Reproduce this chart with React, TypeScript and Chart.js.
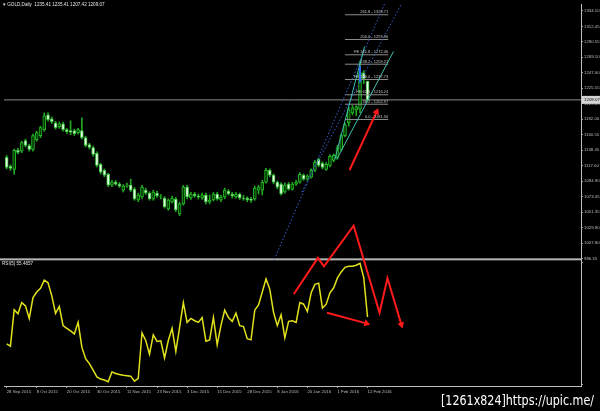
import React, { useEffect, useRef } from "react";
import { Chart, registerables } from "chart.js";
Chart.register(...registerables);

// ---------- price data (GOLD, Daily) ----------
const OPEN = [
  1128.2, 1115.7, 1111.5, 1138.0, 1137.5, 1151.9, 1144.9, 1139.4, 1153.3, 1158.8,
  1167.2, 1188.0, 1182.5, 1176.9, 1171.4, 1175.5, 1167.2, 1165.8, 1165.8, 1163.0,
  1165.8, 1156.0, 1146.3, 1142.1, 1133.8, 1118.5, 1110.1, 1104.6, 1089.3, 1093.5,
  1090.7, 1082.3, 1087.9, 1089.3, 1083.7, 1068.4, 1072.6, 1082.3, 1078.2, 1069.8,
  1078.2, 1072.6, 1071.2, 1055.9, 1065.6, 1069.8, 1048.9, 1062.9, 1086.5, 1071.2,
  1076.8, 1074.0, 1071.2, 1075.4, 1065.6, 1068.4, 1076.8, 1068.4, 1072.6, 1080.9,
  1076.8, 1072.6, 1076.8, 1071.2, 1071.2, 1069.8, 1069.8, 1082.3, 1082.3, 1093.5,
  1110.1, 1103.2, 1093.5, 1090.7, 1079.6, 1090.7, 1083.7, 1090.7, 1093.5, 1103.2,
  1097.6, 1100.4, 1110.1, 1125.5, 1119.9, 1111.5, 1117.1, 1124.1, 1128.2, 1139.4,
  1158.8, 1176.9, 1190.8, 1195.0, 1196.0, 1247.0, 1235.41,
];
const HIGH = [
  1131, 1118, 1140, 1141, 1151, 1154, 1147, 1161, 1165, 1172,
  1190.8, 1191, 1185, 1179, 1178, 1178, 1169, 1179.7, 1168, 1169,
  1183.9, 1158, 1148, 1144, 1136, 1120, 1112, 1106, 1096, 1096,
  1093, 1090, 1092, 1097.6, 1086, 1078, 1089, 1085, 1080, 1082,
  1081, 1076, 1073, 1070, 1074, 1072, 1065, 1089, 1089, 1079,
  1079, 1076.8, 1078, 1078, 1075.4, 1079, 1079, 1075, 1085, 1083,
  1079, 1079, 1078, 1075, 1073, 1072, 1088, 1089, 1096, 1113,
  1112, 1105, 1095, 1093, 1092, 1093, 1093, 1096, 1107, 1105,
  1104, 1112, 1124, 1127, 1122, 1121, 1132, 1133, 1145, 1161,
  1176, 1199, 1201, 1201, 1263.5, 1250, 1235.41,
];
const LOW = [
  1112, 1110, 1104.6, 1133, 1135, 1143, 1137, 1137, 1151, 1156,
  1165, 1179, 1176, 1168, 1169, 1165, 1162, 1160.2, 1159, 1161,
  1154, 1143, 1140, 1130, 1115, 1105, 1101, 1087, 1087, 1089,
  1086, 1079.6, 1086, 1080, 1068, 1066, 1070, 1076, 1068, 1068,
  1072, 1069.8, 1057, 1054, 1064, 1052, 1046.2, 1061, 1070, 1069,
  1072, 1069.8, 1069, 1063, 1063, 1067, 1068, 1066, 1070, 1075,
  1071, 1071, 1069, 1068, 1066, 1065, 1068, 1076.8, 1075.4, 1092,
  1101, 1091, 1084, 1075, 1078, 1082, 1082, 1089, 1092, 1096,
  1096, 1099, 1108, 1115, 1112, 1110, 1115, 1122, 1126, 1137,
  1157, 1172, 1188, 1187, 1191, 1232, 1207.42,
];
const CLOSE = [
  1114.3, 1112.9, 1138.0, 1135.2, 1149.1, 1144.9, 1139.4, 1158.8, 1163.0, 1170.0,
  1186.7, 1181.1, 1178.3, 1170.0, 1175.5, 1167.2, 1164.4, 1163.7, 1161.6, 1167.2,
  1156.0, 1144.9, 1142.1, 1132.4, 1117.1, 1107.4, 1103.2, 1089.3, 1093.5, 1090.7,
  1087.9, 1087.9, 1089.3, 1082.3, 1069.8, 1075.4, 1086.5, 1078.2, 1069.8, 1079.6,
  1074.0, 1073.3, 1058.7, 1068.4, 1071.2, 1054.5, 1062.9, 1086.5, 1072.6, 1076.8,
  1074.0, 1072.6, 1075.4, 1065.6, 1068.4, 1076.8, 1069.8, 1072.6, 1082.3, 1076.8,
  1074.0, 1076.8, 1071.2, 1070.5, 1068.4, 1067.7, 1085.1, 1086.5, 1093.5, 1110.1,
  1103.2, 1093.5, 1086.5, 1076.8, 1089.3, 1083.7, 1090.7, 1093.5, 1104.6, 1097.6,
  1101.8, 1110.1, 1121.3, 1117.1, 1114.3, 1118.5, 1129.6, 1131.0, 1142.1, 1158.8,
  1174.1, 1195.0, 1197.8, 1199.2, 1247.5, 1239.0, 1209.07,
];

// ---------- oscillator (0..100) ----------
const RSI = [
  33.5, 31.5, 61.4, 58.1, 67.3, 64.6, 54.3, 71.4, 76.0, 79.0,
  85.8, 83.6, 72.8, 58.4, 64.1, 48.4, 46.2, 44.1, 41.6, 51.1,
  30.7, 21.3, 17.2, 11.8, 6.3, 4.5, 3.7, 2.3, 10.4, 9.1,
  8.3, 7.7, 7.3, 6.9, 2.8, 5.0, 42.4, 36.2, 25.0, 40.8,
  35.4, 35.9, 21.8, 36.2, 46.2, 27.2, 47.0, 67.3, 51.1, 54.3,
  52.4, 51.1, 55.1, 35.6, 36.7, 55.1, 32.7, 48.4, 61.1, 55.1,
  51.9, 58.7, 48.4, 47.6, 37.6, 36.7, 61.1, 65.4, 76.0, 86.8,
  78.2, 59.2, 48.4, 57.3, 38.4, 51.9, 52.4, 51.1, 67.3, 66.0,
  60.0, 75.4, 82.3, 83.3, 62.8, 66.0, 75.4, 79.5, 87.6, 92.5,
  96.3, 97.2, 97.2, 98.0, 99.6, 87.6, 55.5,
];

// ---------- axes / labels ----------
const PRICE_TICKS = [
  1334.1, 1312.45, 1290.55, 1269.1, 1247.0, 1225.55, 1203.45, 1182.0, 1160.55,
  1138.45, 1117.0, 1094.9, 1073.45, 1051.35, 1029.9, 1007.8, 986.35,
];
const RSI_TICKS = [100, 0];
const DATE_TICKS = [0, 8, 16, 24, 32, 40, 48, 56, 64, 72, 80, 88, 96];
const DATE_LABELS = [
  "28 Sep 2015", "8 Oct 2015", "20 Oct 2015", "30 Oct 2015", "11 Nov 2015",
  "23 Nov 2015", "3 Dec 2015", "15 Dec 2015", "28 Dec 2015", "8 Jan 2016",
  "20 Jan 2016", "1 Feb 2016", "12 Feb 2016",
];
const TITLE = "\u25BE GOLD,Daily  1235.41 1235.41 1207.42 1209.07";
const RSI_TITLE = "RSI(5) 55.4657";
const LAST_PRICE = 1209.07;
const WATERMARK = "[1261x824]https://upic.me/";

// ---------- fibonacci levels ----------
const FIB_LEVELS = [1328.71, 1293.96, 1272.46, 1259.21, 1237.73, 1216.24, 1202.97, 1181.5];
const FIB_LABELS = [
  "261.8 - 1328.71", "200.0 - 1293.96", "FE 161.8 - 1272.46", "138.2 - 1259.21",
  "FE 100.0 - 1237.73", "FE 61.8 - 1216.24", "38.2 - 1202.97", "0.0 - 1181.50",
];
const FIB_FROM = 90;
const FIB_TO = 101.5;

// ---------- hand-drawn objects, [bar index, price] ----------
const CHANNEL_STEEP = [[87.3, 1125.4], [95.2, 1284.0]];
const CHANNEL_SHALLOW = [[87.8, 1125.4], [102.9, 1277.1]];
const DOTTED_1 = [[71.2, 985.0], [100.5, 1343.8]];
const DOTTED_2 = [[78.5, 1079.5], [105.0, 1343.8]];
const RED_UP = [[91.2, 1110.1], [98.4, 1192.2]];
const RED_ZIGZAG = [[76.4, 936.3], [82.8, 987.0], [84.4, 975.2], [92.3, 1032.3], [99.2, 909.8], [101.3, 958.5], [105.0, 893.2]];
const RED_DIVERGENCE = [[85.2, 909.8], [95.7, 894.9]];
const BLUE_MARK = [[94, 1256], [94, 1234]];

const X_MIN = -0.713;
const X_MAX = 152.79;
const PRICE_MIN = 806.91;
const PRICE_MAX = 1343.84;
const RSI_MIN = -1.2;
const RSI_MAX = 312.6;

const FONT = "Liberation Sans";

const pts = (arr: number[][]) => arr.map(([x, y]) => ({ x, y }));

function lineDs(arr: number[][], color: string, width: number, extra: any = {}) {
  return {
    type: "line",
    data: pts(arr),
    borderColor: color,
    borderWidth: width,
    pointRadius: 0,
    tension: 0,
    xAxisID: "x",
    yAxisID: "y",
    order: 1,
    ...extra,
  };
}

function arrowDs(arr: number[][], color: string, rotation: number) {
  const n = arr.length;
  return lineDs(arr, color, 2, {
    pointRadius: arr.map((_, i) => (i === n - 1 ? 4 : 0)),
    pointStyle: "triangle",
    pointRotation: arr.map((_, i) => (i === n - 1 ? rotation : 0)),
    pointBackgroundColor: color,
    pointBorderColor: color,
    pointBorderWidth: 0,
    order: 0,
  });
}

const overlayPlugin = {
  id: "overlay",
  beforeDraw(chart: any) {
    const ctx = chart.ctx;
    ctx.save();
    ctx.fillStyle = "#000";
    ctx.fillRect(0, 0, chart.width, chart.height);
    ctx.restore();
  },
  beforeDatasetsDraw(chart: any) {
    const ctx = chart.ctx;
    const ca = chart.chartArea;
    const yS = chart.scales.y;
    const sepY = yS.getPixelForValue(PRICE_TICKS[PRICE_TICKS.length - 1]) + 1;
    ctx.save();
    ctx.fillStyle = "#b4b4b4";
    ctx.fillRect(0, sepY - 1, ca.right, 2);
    ctx.restore();
  },
  afterDraw(chart: any) {
    const ctx = chart.ctx;
    const xS = chart.scales.x;
    const yS = chart.scales.y;
    const ca = chart.chartArea;
    ctx.save();
    ctx.textBaseline = "middle";
    ctx.textAlign = "left";
    ctx.fillStyle = "#e6e6e6";
    ctx.font = `4.6px "${FONT}"`;
    ctx.fillText(TITLE, 3, 5);
    const sepY = yS.getPixelForValue(PRICE_TICKS[PRICE_TICKS.length - 1]) + 1;
    ctx.fillText(RSI_TITLE, 2, sepY + 4.5);

    // fib labels
    ctx.font = `4px "${FONT}"`;
    ctx.fillStyle = "#c4c4c4";
    ctx.textAlign = "right";
    ctx.textBaseline = "bottom";
    const fx = xS.getPixelForValue(FIB_TO);
    FIB_LEVELS.forEach((lv, i) => {
      ctx.fillText(FIB_LABELS[i], fx, yS.getPixelForValue(lv) - 0.5);
    });

    // last price box
    const py = yS.getPixelForValue(LAST_PRICE);
    ctx.fillStyle = "#d4d4d4";
    ctx.fillRect(ca.right + 1, py - 4, chart.width - ca.right - 1, 8);
    ctx.fillStyle = "#000";
    ctx.textAlign = "left";
    ctx.textBaseline = "middle";
    ctx.font = `4.4px "${FONT}"`;
    ctx.fillText(LAST_PRICE.toFixed(2), ca.right + 3, py);

    // watermark
    ctx.fillStyle = "#ffffff";
    ctx.font = `14px "DejaVu Sans"`;
    ctx.textAlign = "left";
    ctx.textBaseline = "middle";
    ctx.fillText(WATERMARK, 441, 401, 153);
    ctx.restore();
  },
};

export default function App() {
  const ref = useRef<HTMLCanvasElement | null>(null);

  useEffect(() => {
    if (!ref.current) return;
    const idx = OPEN.map((_, i) => i);
    const bull = idx.map((i) => CLOSE[i] >= OPEN[i]);

    const fibData: any[] = [];
    FIB_LEVELS.forEach((lv) => {
      fibData.push({ x: FIB_FROM, y: lv }, { x: FIB_TO, y: lv }, { x: FIB_TO, y: null });
    });

    const chart = new Chart(ref.current, {
      type: "bar",
      data: {
        datasets: [
          arrowDs(RED_UP, "#ff1a1a", 25),
          arrowDs(RED_ZIGZAG, "#ff1a1a", 163),
          arrowDs(RED_DIVERGENCE, "#ff1a1a", 105),
          {
            type: "line",
            data: idx.map((i) => ({ x: i, y: RSI[i] })),
            borderColor: "#e2e21c",
            borderWidth: 1.5,
            pointRadius: 0,
            tension: 0,
            xAxisID: "x",
            yAxisID: "y2",
            order: 1,
          },
          lineDs(BLUE_MARK, "#2f6bff", 2, { order: 2 }),
          lineDs(CHANNEL_STEEP, "#3fc0b0", 1, { order: 2 }),
          lineDs(CHANNEL_SHALLOW, "#3fc0b0", 1, { order: 2 }),
          lineDs(DOTTED_1, "#3560d0", 1, { borderDash: [1.5, 2], order: 2 }),
          lineDs(DOTTED_2, "#3560d0", 1, { borderDash: [1.5, 2], order: 2 }),
          {
            type: "line",
            data: fibData,
            borderColor: "#8c8c8c",
            borderWidth: 1,
            pointRadius: 0,
            spanGaps: false,
            xAxisID: "x",
            yAxisID: "y",
            order: 3,
          },
          {
            type: "bar",
            data: idx.map((i) => ({ x: i, y: [OPEN[i], CLOSE[i]] })),
            backgroundColor: idx.map((i) => (bull[i] ? "#053805" : "#e6ffe6")),
            borderColor: idx.map((i) => (bull[i] ? "#22b822" : "#3cbc3c")),
            borderWidth: 1,
            borderSkipped: false,
            barThickness: 3,
            grouped: false,
            xAxisID: "x",
            yAxisID: "y",
            order: 4,
          },
          {
            type: "bar",
            data: idx.map((i) => ({ x: i, y: [LOW[i], HIGH[i]] })),
            backgroundColor: "#20a820",
            barThickness: 1,
            grouped: false,
            xAxisID: "x",
            yAxisID: "y",
            order: 5,
          },
          {
            type: "line",
            data: [
              { x: X_MIN, y: LAST_PRICE },
              { x: X_MAX, y: LAST_PRICE },
            ],
            borderColor: "#8a8a8a",
            borderWidth: 1,
            pointRadius: 0,
            xAxisID: "x",
            yAxisID: "y",
            order: 6,
          },
        ] as any,
      },
      options: {
        animation: false,
        responsive: false,
        maintainAspectRatio: false,
        layout: { padding: 0 },
        plugins: { legend: { display: false }, tooltip: { enabled: false } },
        scales: {
          x: {
            type: "linear",
            min: X_MIN,
            max: X_MAX,
            offset: false,
            position: "bottom",
            afterFit: (s: any) => {
              s.height = 25;
              s.paddingLeft = 0;
              s.paddingRight = 0;
            },
            afterBuildTicks: (s: any) => {
              s.ticks = DATE_TICKS.map((v) => ({ value: v }));
            },
            ticks: {
              autoSkip: false,
              maxRotation: 0,
              minRotation: 0,
              align: "start",
              padding: 1,
              color: "#bdbdbd",
              font: { family: FONT, size: 4.3 },
              callback: (v: any) => {
                const k = DATE_TICKS.indexOf(Number(v));
                return k >= 0 ? DATE_LABELS[k] : "";
              },
            },
            grid: { drawOnChartArea: false, offset: false, drawTicks: true, tickLength: 2, color: "#9a9a9a" },
            border: { display: true, color: "#bdbdbd", width: 1 },
          },
          y2: {
            type: "linear",
            position: "right",
            min: RSI_MIN,
            max: RSI_MAX,
            weight: 0,
            afterFit: (s: any) => {
              s.width = 0;
              s.paddingTop = 0;
              s.paddingBottom = 0;
            },
            afterBuildTicks: (s: any) => {
              s.ticks = RSI_TICKS.map((v) => ({ value: v }));
            },
            ticks: {
              padding: 1,
              color: "#bdbdbd",
              font: { family: FONT, size: 4.3 },
              callback: (v: any) => String(v),
            },
            grid: { drawOnChartArea: false, drawTicks: true, tickLength: 2, color: "#9a9a9a" },
            border: { display: false },
          },
          y: {
            type: "linear",
            position: "right",
            min: PRICE_MIN,
            max: PRICE_MAX,
            weight: 1,
            afterFit: (s: any) => {
              s.width = 19;
              s.paddingTop = 0;
              s.paddingBottom = 0;
            },
            afterBuildTicks: (s: any) => {
              s.ticks = PRICE_TICKS.map((v) => ({ value: v }));
            },
            ticks: {
              padding: 1,
              autoSkip: false,
              color: "#bdbdbd",
              font: { family: FONT, size: 4.3 },
              callback: (v: any) => Number(v).toFixed(2),
            },
            grid: { drawOnChartArea: false, drawTicks: true, tickLength: 2, color: "#9a9a9a" },
            border: { display: true, color: "#bdbdbd", width: 1 },
          },
        },
      } as any,
      plugins: [overlayPlugin],
    });
    return () => chart.destroy();
  }, []);

  return (
    <div style={{ position: "fixed", left: 0, top: 0, width: 600, height: 411, background: "#000" }}>
      <canvas ref={ref} width={600} height={411} style={{ display: "block", width: 600, height: 411 }} />
    </div>
  );
}
